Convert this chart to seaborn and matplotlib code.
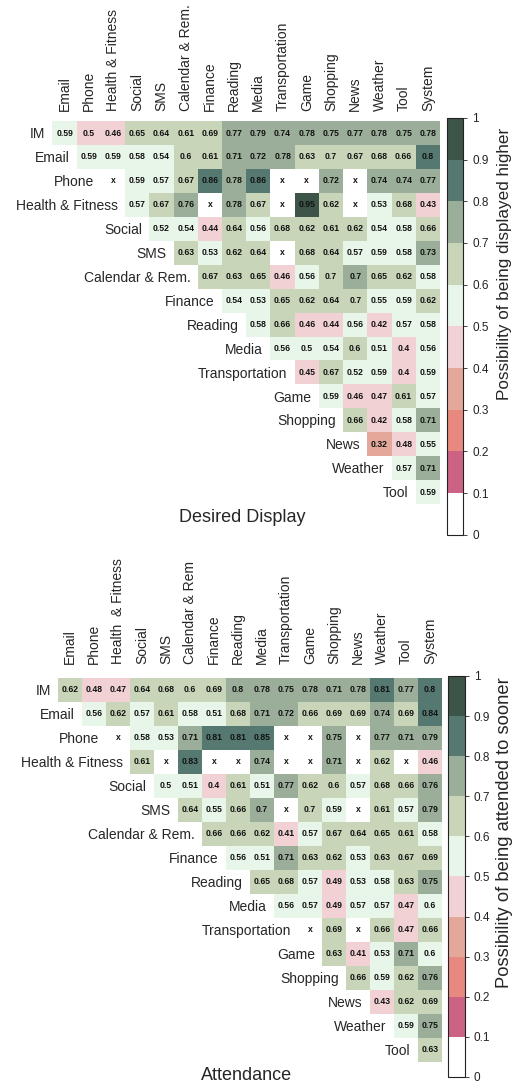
import numpy as np
import matplotlib
matplotlib.use("Agg")
import matplotlib.pyplot as plt
from matplotlib.colors import ListedColormap
import seaborn as sns

sns.set_style("white")
plt.rcParams["font.family"] = ["Liberation Sans", "DejaVu Sans"]

X = np.nan  # cells marked "x"

row_names = ["IM", "Email", "Phone", "Health & Fitness", "Social", "SMS",
             "Calendar & Rem.", "Finance", "Reading", "Media", "Transportation",
             "Game", "Shopping", "News", "Weather", "Tool"]
col_names_top = ["Email", "Phone", "Health & Fitness", "Social", "SMS",
                 "Calendar & Rem.", "Finance", "Reading", "Media", "Transportation",
                 "Game", "Shopping", "News", "Weather", "Tool", "System"]
col_names_bottom = ["Email", "Phone", "Health  & Fitness", "Social", "SMS",
                    "Calendar & Rem", "Finance", "Reading", "Media", "Transportation",
                    "Game", "Shopping", "News", "Weather", "Tool", "System"]

# row i starts at column i (upper triangle)
desired_values = [
    [0.59, 0.498, 0.46, 0.65, 0.64, 0.61, 0.69, 0.77, 0.79, 0.74, 0.78, 0.75, 0.77, 0.78, 0.75, 0.78],
    [0.59, 0.59, 0.58, 0.54, 0.6, 0.61, 0.71, 0.72, 0.78, 0.63, 0.698, 0.67, 0.68, 0.66, 0.802],
    [X, 0.59, 0.57, 0.67, 0.86, 0.78, 0.86, X, X, 0.72, X, 0.74, 0.74, 0.77],
    [0.57, 0.67, 0.76, X, 0.78, 0.67, X, 0.95, 0.62, X, 0.53, 0.68, 0.43],
    [0.52, 0.54, 0.44, 0.64, 0.56, 0.68, 0.62, 0.61, 0.62, 0.54, 0.58, 0.66],
    [0.63, 0.53, 0.62, 0.64, X, 0.68, 0.64, 0.57, 0.59, 0.58, 0.73],
    [0.67, 0.63, 0.65, 0.46, 0.56, 0.698, 0.702, 0.65, 0.62, 0.58],
    [0.54, 0.53, 0.65, 0.62, 0.64, 0.698, 0.55, 0.59, 0.62],
    [0.58, 0.66, 0.46, 0.44, 0.56, 0.42, 0.57, 0.58],
    [0.56, 0.502, 0.54, 0.6, 0.51, 0.402, 0.56],
    [0.45, 0.67, 0.52, 0.59, 0.402, 0.59],
    [0.59, 0.46, 0.47, 0.61, 0.57],
    [0.66, 0.42, 0.58, 0.71],
    [0.32, 0.48, 0.55],
    [0.57, 0.71],
    [0.59],
]

attendance_values = [
    [0.62, 0.48, 0.47, 0.64, 0.68, 0.6, 0.69, 0.798, 0.78, 0.75, 0.78, 0.71, 0.78, 0.81, 0.77, 0.802],
    [0.56, 0.62, 0.57, 0.61, 0.58, 0.51, 0.68, 0.71, 0.72, 0.66, 0.69, 0.69, 0.74, 0.69, 0.84],
    [X, 0.58, 0.53, 0.71, 0.81, 0.81, 0.85, X, X, 0.75, X, 0.77, 0.71, 0.79],
    [0.61, X, 0.83, X, X, 0.74, X, X, 0.71, X, 0.62, X, 0.46],
    [0.502, 0.51, 0.402, 0.61, 0.51, 0.77, 0.62, 0.6, 0.57, 0.68, 0.66, 0.76],
    [0.64, 0.55, 0.66, 0.702, X, 0.698, 0.59, X, 0.61, 0.57, 0.79],
    [0.66, 0.66, 0.62, 0.41, 0.57, 0.67, 0.64, 0.65, 0.61, 0.58],
    [0.56, 0.51, 0.71, 0.63, 0.62, 0.53, 0.63, 0.67, 0.69],
    [0.65, 0.68, 0.57, 0.49, 0.53, 0.58, 0.63, 0.75],
    [0.56, 0.57, 0.49, 0.57, 0.57, 0.47, 0.598],
    [X, 0.69, X, 0.66, 0.47, 0.66],
    [0.63, 0.41, 0.53, 0.71, 0.598],
    [0.66, 0.59, 0.62, 0.76],
    [0.43, 0.62, 0.69],
    [0.59, 0.75],
    [0.63],
]

palette = ["#ffffff", "#cc6384", "#e8897f", "#e4a89a", "#f2d1d5",
           "#e8f5e9", "#c8d5b9", "#9aae9a", "#557970", "#3d5449"]
cmap = ListedColormap(palette)


def build(rows):
    n = len(rows)
    m = np.full((n, n), np.nan)
    for i, r in enumerate(rows):
        m[i, i:] = r
    return m


def draw(fig, rows, cols, title, cbar_label, ax_rect, cax_rect, label_size, xpad, label_xy):
    m = build(rows)
    n = m.shape[0]
    mask = np.tril(np.ones((n, n), dtype=bool), k=-1)
    labels = np.where(np.isnan(m), "x",
                      np.vectorize(lambda v: f"{round(v, 2):g}")(np.nan_to_num(m)))
    ax = fig.add_axes(ax_rect)
    cax = fig.add_axes(cax_rect)
    sns.heatmap(np.nan_to_num(m, nan=0.0), mask=mask, cmap=cmap, vmin=0, vmax=1,
                annot=labels, fmt="", ax=ax, cbar_ax=cax,
                annot_kws={"fontsize": 6.2, "fontweight": "bold", "color": "#111111"},
                xticklabels=cols, yticklabels=False)
    ax.xaxis.tick_top()
    ax.tick_params(axis="x", length=0, pad=xpad, labelsize=10, labelrotation=90)
    ax.tick_params(axis="y", length=0)
    # row labels sit just left of the first cell of each row
    for i, name in enumerate(row_names):
        ax.text(i - 0.3, i + 0.55, name, ha="right", va="center", fontsize=10)
    ax.text(0.49, -0.012, title, transform=ax.transAxes, ha="center", va="top",
            fontsize=13)

    cbar = ax.collections[0].colorbar
    cbar.set_ticks(np.linspace(0, 1, 11))
    cbar.set_ticklabels(["0", "0.1", "0.2", "0.3", "0.4", "0.5", "0.6", "0.7",
                         "0.8", "0.9", "1"])
    cbar.ax.tick_params(labelsize=8.5, length=3, width=0.6, colors="#222222")
    cbar.outline.set_linewidth(0.8)
    cbar.outline.set_edgecolor("#222222")
    cbar.set_label(cbar_label, fontsize=label_size)
    cbar.ax.yaxis.set_label_coords(*label_xy)
    return ax


fig = plt.figure(figsize=(5.13, 10.87), dpi=100)

draw(fig, desired_values, col_names_top, "Desired Display",
     "Possibility of being displayed higher",
     [0.1023, 0.5363, 0.7554, 0.3523], [0.8713, 0.508, 0.0312, 0.3836], 12.3, 7,
     (3.1, 0.65))
draw(fig, attendance_values, col_names_bottom, "Attendance",
     "Possibility of being attended to sooner",
     [0.113, 0.023, 0.7485, 0.3533], [0.873, 0.0092, 0.033, 0.369], 13.2, 10,
     (2.85, 0.61))

fig.savefig("out.png", dpi=100)
